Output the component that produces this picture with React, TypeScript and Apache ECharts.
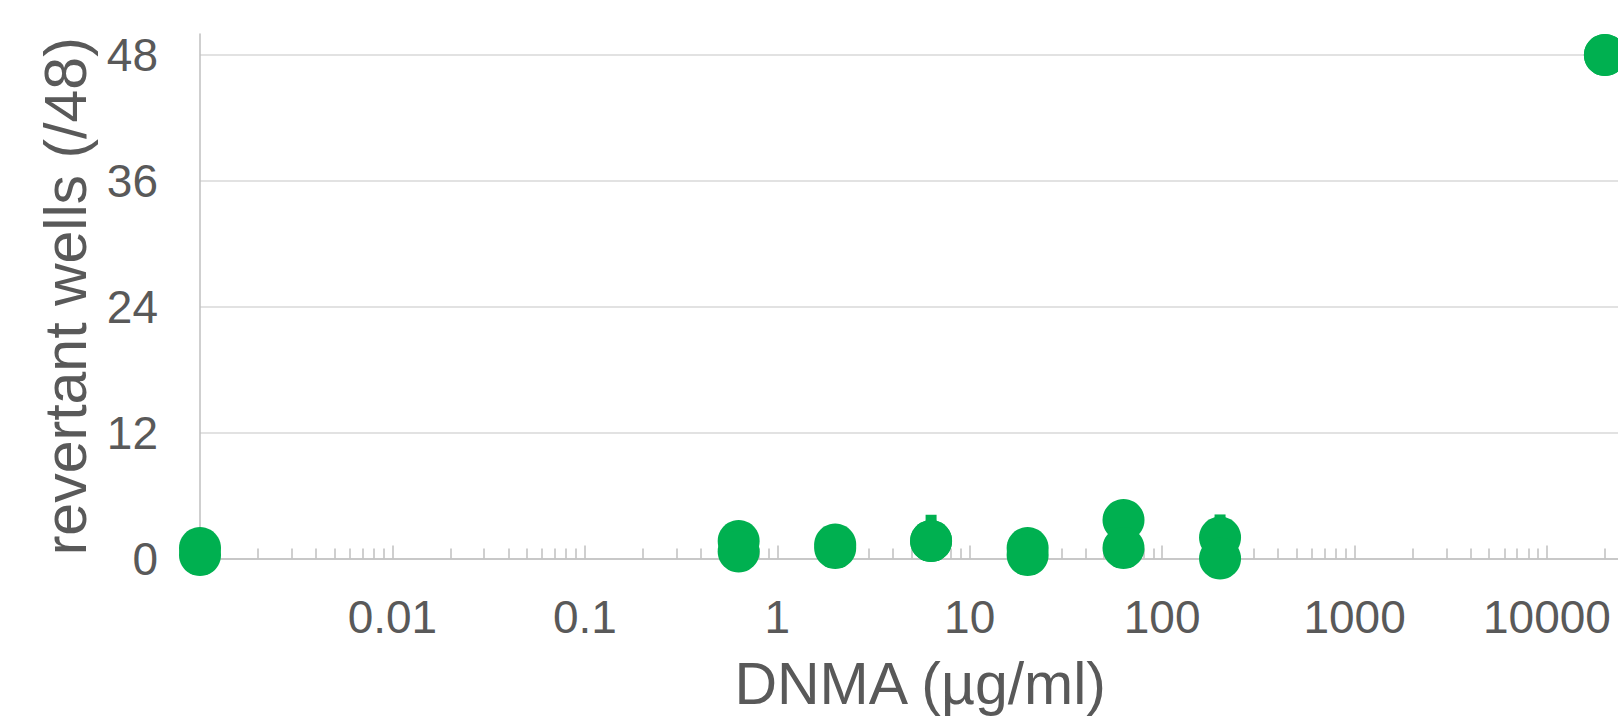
import React, { useEffect, useRef } from "react";
import * as echarts from "echarts";

// Concentrations (µg/ml); the untreated control sits at the left end of the log axis.
const doses = [0.001, 0.63, 2, 6.3, 20, 63, 200, 20000];
// Revertant wells per plate (of 48), two replicate runs.
const wellsRunA = [1.0, 1.67, 1.33, 1.67, 1.0, 3.67, 2.0, 48];
const wellsRunB = [0.33, 0.67, 1.0, 1.67, 0.33, 1.0, 0, 48];
// Upper error (SD) for run A; null where none is drawn.
const errorRunA: (number | null)[] = [null, null, null, 2.5, null, null, 2.2, null];

const yMin = 0;
const yMax = 50;
const yInterval = 12;
const xMin = 0.001;
const xMax = 100000;

const GREEN = "#00B050";
const TEXT = "#595959";
const AXIS = "#bfbfbf";
const GRID = "#d9d9d9";
const FONT = "'Liberation Sans', Arial, Helvetica, sans-serif";

const fmtDose = (v: number) => String(parseFloat(Number(v).toPrecision(6)));

export default function App() {
  const ref = useRef<HTMLDivElement>(null);

  useEffect(() => {
    if (!ref.current) return;
    const chart = echarts.init(ref.current, undefined, { renderer: "svg" });

    const pointsA = doses.map((d, i) => [d, wellsRunA[i]]);
    const pointsB = doses.map((d, i) => [d, wellsRunB[i]]);
    const errData = doses
      .map((d, i) => (errorRunA[i] == null ? null : [d, wellsRunA[i], errorRunA[i] as number]))
      .filter((x) => x !== null) as number[][];

    chart.setOption({
      animation: false,
      backgroundColor: "#ffffff",
      grid: {
        left: 200,
        top: 34,
        width: 1539.4,
        height: 524.5,
        containLabel: false,
        outerBoundsMode: "none",
      },
      xAxis: {
        type: "log",
        logBase: 10,
        min: xMin,
        max: xMax,
        axisLine: { show: true, onZero: false, lineStyle: { color: AXIS, width: 1.5 } },
        axisTick: { show: true, inside: true, length: 13, lineStyle: { color: AXIS, width: 1.5 } },
        minorTick: { show: true, splitNumber: 9, length: 10, lineStyle: { color: AXIS, width: 1.5 } },
        axisLabel: {
          fontSize: 46,
          color: TEXT,
          fontFamily: FONT,
          margin: 35,
          showMinLabel: false,
          showMaxLabel: false,
          formatter: (v: number) => fmtDose(v),
        },
        splitLine: { show: false },
        name: "DNMA (µg/ml)",
        nameLocation: "middle",
        nameGap: 96,
        nameTextStyle: { fontSize: 59, color: TEXT, fontFamily: FONT, padding: [0, 99, 0, 0] },
      },
      yAxis: {
        type: "value",
        min: yMin,
        max: yMax,
        interval: yInterval,
        axisLine: { show: true, lineStyle: { color: AXIS, width: 1.5 } },
        axisTick: { show: false },
        axisLabel: {
          fontSize: 46,
          color: TEXT,
          fontFamily: FONT,
          margin: 42,
          showMaxLabel: false,
        },
        splitLine: { show: true, showMaxLine: false, lineStyle: { color: GRID, width: 1.5 } },
        name: "revertant wells (/48)",
        nameLocation: "middle",
        nameGap: 104,
        nameTextStyle: { fontSize: 59, color: TEXT, fontFamily: FONT },
      },
      series: [
        {
          type: "custom",
          name: "error",
          data: errData,
          z: 3,
          renderItem: (_params: any, api: any) => {
            const x = api.value(0);
            const y = api.value(1);
            const e = api.value(2);
            const p0 = api.coord([x, y]);
            const p1 = api.coord([x, y + e]);
            return {
              type: "line",
              shape: { x1: p0[0], y1: p0[1], x2: p1[0], y2: p1[1] },
              style: { stroke: GREEN, lineWidth: 11, lineCap: "butt" },
            };
          },
        },
        {
          type: "scatter",
          name: "run A",
          data: pointsA,
          symbol: "circle",
          symbolSize: 42,
          clip: false,
          itemStyle: { color: GREEN, opacity: 1 },
          z: 4,
        },
        {
          type: "scatter",
          name: "run B",
          data: pointsB,
          symbol: "circle",
          symbolSize: 42,
          clip: false,
          itemStyle: { color: GREEN, opacity: 1 },
          z: 4,
        },
      ],
    });

    return () => {
      chart.dispose();
    };
  }, []);

  return (
    <div
      style={{
        position: "fixed",
        left: 0,
        top: 0,
        width: 1618,
        height: 722,
        overflow: "hidden",
        background: "#ffffff",
      }}
    >
      <div ref={ref} style={{ width: 1800, height: 722 }} />
    </div>
  );
}
